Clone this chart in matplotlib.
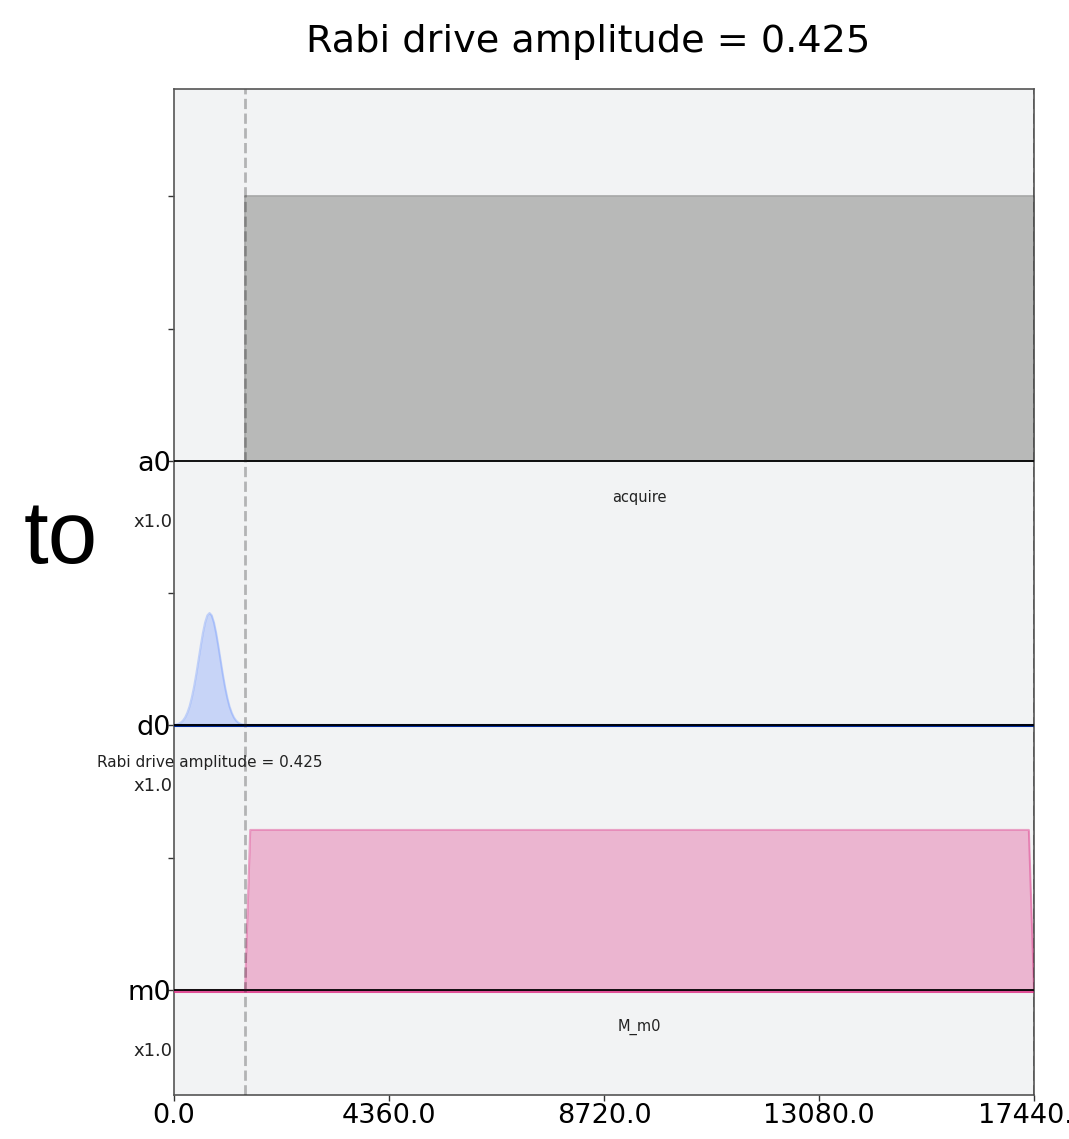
import numpy as np
import matplotlib
matplotlib.use("Agg")
from matplotlib import pyplot as plt
from matplotlib import transforms

# channel rows (bottom to top) and their baseline offsets
channels = ["m0", "d0", "a0"]
offsets = [0.0, 1.0, 2.0]
scales = ["x1.0", "x1.0", "x1.0"]

# d0: gaussian drive pulse
d0_t = [0, 45, 90, 135, 180, 225, 270, 315, 360, 405, 450, 495, 540, 585, 630, 675, 720,
        765, 810, 855, 900, 945, 990, 1035, 1080, 1125, 1170, 1215, 1260, 1305, 1350, 1395, 1440,
        17440]
d0_v = [0.0016, 0.0031, 0.0058, 0.0105, 0.018, 0.030, 0.048, 0.0721, 0.105, 0.1453, 0.193,
        0.2458, 0.299, 0.349, 0.389, 0.4158, 0.425,
        0.4158, 0.389, 0.349, 0.299, 0.2458, 0.193, 0.1453, 0.105, 0.0721, 0.048, 0.030, 0.018,
        0.0105, 0.0058, 0.0031, 0.0016, 0.0]

# m0: measurement pulse (flat top with short ramps)
m0_t = [0, 1440, 1545, 17335, 17440]
m0_v = [0.0, 0.0, 0.605, 0.605, 0.0]

# a0: acquire window
acq_start = 1440
acq_stop = 17440

# labels
d0_label = "Rabi drive amplitude = 0.425"
acq_label = "acquire"
m0_label = "M_m0"
title = "Rabi drive amplitude = 0.425"

x_ticks = [0, 4360, 8720, 13080, 17440]
t_end = 17440

bg = "#f2f3f4"
d_col = ("#648fff", "#002999")
m_col = ("#dc267f", "#760019")

fig = plt.figure(figsize=(10.69, 11.39), dpi=100)
ax = fig.add_axes([0.1628, 0.0386, 0.9673 - 0.1628, 0.9219 - 0.0386])
ax.set_facecolor(bg)

# acquire box
ax.fill_between([acq_start, acq_stop], offsets[2], offsets[2] + 1.0,
                color="#b8b9b8", edgecolor="#a6a7a6", linewidth=1.2, zorder=2)
ax.text((acq_start + acq_stop) / 2, offsets[2] - 0.14, acq_label,
        fontsize=10.5, ha="center", va="center", color="#222222")

# drive channel
y0 = offsets[1]
ax.fill_between(d0_t, y0, y0 + np.array(d0_v), color=d_col[0], alpha=0.3, linewidth=0, zorder=2)
ax.plot(d0_t, y0 + np.array(d0_v), color=d_col[0], alpha=0.35, linewidth=1.5, zorder=3)
ax.plot([0, t_end], [y0, y0], color=d_col[1], linewidth=2.2, zorder=3)
ax.text(720, y0 - 0.14, d0_label, fontsize=11, ha="center", va="center", color="#222222")

# measure channel
y0 = offsets[0]
ax.fill_between(m0_t, y0, y0 + np.array(m0_v), color=m_col[0], alpha=0.3, linewidth=0, zorder=2)
ax.plot(m0_t, y0 + np.array(m0_v), color=m_col[0], alpha=0.4, linewidth=1.5, zorder=3)
ax.plot([0, t_end], [y0 - 0.004, y0 - 0.004], color=m_col[0], linewidth=2.2, alpha=0.8, zorder=3)
ax.text((acq_start + acq_stop) / 2, y0 - 0.14, m0_label, fontsize=10.5, ha="center", va="center",
        color="#222222")

# baselines
for off in offsets:
    ax.axhline(off, color="k", linewidth=1.3, zorder=4)

# scale labels left of the axes
trans = transforms.blended_transform_factory(ax.transAxes, ax.transData)
for off, s in zip(offsets, scales):
    ax.text(-0.002, off - 0.23, s, transform=trans, fontsize=13, ha="right", va="center",
            color="#222222")

# dashed markers
for xv in [acq_start, t_end]:
    ax.axvline(xv, color="#222222", alpha=0.3, linestyle="--", linewidth=2, zorder=5)

ax.set_xlim(0, t_end)
ax.set_ylim(-0.397, 3.406)
ax.set_xticks(x_ticks)
ax.set_xticklabels(["%.1f" % v for v in x_ticks])
yt = [0, 0.5, 1, 1.5, 2, 2.5, 3]
ax.set_yticks(yt)
ylab = {0: "m0", 1: "d0", 2: "a0"}
ax.set_yticklabels([ylab.get(v, "") for v in yt])
ax.tick_params(axis="both", labelsize=19.5, length=4, width=1, color="#333333")
ax.tick_params(axis="y", pad=-2)
ax.tick_params(axis="x", pad=2)
for sp in ax.spines.values():
    sp.set_color("#555555")
    sp.set_linewidth(1.2)

fig.text(588 / 1069, 1 - 42 / 1139, title, fontsize=27.5, ha="center", va="center")
fig.text(61 / 1069, 1 - 540 / 1139, "to", fontsize=64, family="Liberation Sans",
         ha="center", va="center")

fig.savefig("out.png", dpi=100)
